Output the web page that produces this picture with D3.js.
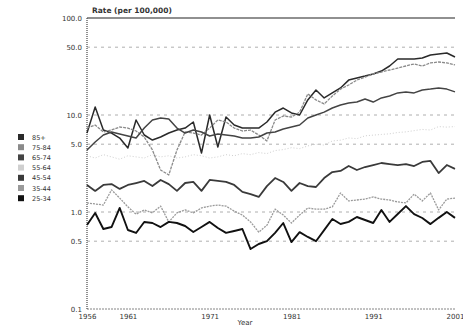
<!DOCTYPE html>
<html><head><meta charset="utf-8">
<script src="https://cdn.jsdelivr.net/npm/d3@7"></script>
<style>body{margin:0;background:#fff}svg{display:block}text{font-family:"DejaVu Sans",sans-serif}</style>
</head><body><svg id="c" width="463" height="327"></svg>
<script>
const years = d3.range(1956, 2002);
const groups = ["85+","75-84","65-74","55-64","45-54","35-44","25-34"];
const yTicks = [0.1,0.5,1,5,10,50,100];
const xTicks = [1956,1961,1971,1981,1991,2001];
const s85 = [6.52,12.1,7.0,6.52,5.79,4.57,8.88,6.22,5.52,5.93,6.52,7.0,7.34,8.47,4.06,10.0,4.68,9.53,7.88,7.34,7.34,7.34,8.47,10.7,11.8,10.5,10.0,14.3,18.1,15.0,16.9,19.0,22.9,24.1,25.2,26.5,28.4,32.0,37.8,37.8,37.8,38.7,41.6,42.6,43.6,39.6];
const s75 = [7.34,7.88,6.68,7.0,7.52,7.34,6.84,5.93,4.36,2.71,2.41,4.36,6.68,6.52,6.22,7.34,8.88,8.47,7.34,6.84,7.0,6.22,5.40,8.88,9.77,9.53,10.7,16.5,14.3,13.0,15.7,18.5,20.4,22.9,24.6,26.5,27.7,29.1,30.5,32.0,33.6,32.0,34.4,35.2,34.4,32.8];
const s65 = [4.36,5.27,6.22,6.68,6.37,6.08,5.79,7.34,8.88,9.31,9.10,7.34,6.52,7.0,6.68,6.08,6.37,6.22,6.08,5.79,5.79,5.93,6.52,6.68,7.17,7.52,7.88,9.31,10.0,10.7,11.8,12.7,13.3,13.6,14.6,13.6,15.0,15.7,16.9,17.3,16.9,18.1,18.5,19.0,18.5,17.3];
const s55 = [3.8,3.6,3.9,3.7,3.5,3.8,3.7,3.6,3.9,3.7,3.8,3.6,3.7,3.9,3.8,3.6,3.7,3.9,3.8,4.0,3.9,4.1,4.0,4.3,4.4,4.6,4.5,4.8,5.0,4.9,5.4,5.5,5.8,5.7,6.1,6.2,6.3,6.4,6.6,6.7,6.9,7.1,7.0,7.6,7.5,7.6];
const s45 = [1.90,1.65,1.90,1.94,1.73,1.90,1.99,2.09,1.85,2.14,1.94,1.65,1.99,2.04,1.65,2.14,2.09,2.04,1.90,1.61,1.53,1.43,1.85,2.24,2.04,1.65,1.99,1.85,1.81,2.24,2.58,2.65,2.98,2.71,2.91,3.05,3.20,3.12,3.05,3.12,2.98,3.28,3.36,2.52,3.05,2.78];
const s35 = [1.24,1.21,1.18,1.69,1.39,1.13,0.95,1.05,0.98,1.15,0.79,0.98,1.05,0.98,1.10,1.15,1.18,1.15,1.02,0.93,0.79,0.62,0.73,1.07,0.93,0.77,0.93,1.10,1.07,1.07,1.13,1.57,1.30,1.33,1.36,1.43,1.36,1.33,1.27,1.24,1.53,1.30,1.57,1.05,1.36,1.39];
const s25 = [0.734,0.977,0.668,0.70,1.10,0.652,0.608,0.789,0.77,0.70,0.79,0.77,0.717,0.622,0.70,0.79,0.684,0.61,0.637,0.668,0.415,0.468,0.50,0.61,0.77,0.49,0.62,0.553,0.50,0.65,0.847,0.752,0.79,0.888,0.827,0.77,1.05,0.79,0.953,1.15,0.95,0.867,0.75,0.87,1.0,0.87];
const seriesValues = [s85,s75,s65,s55,s45,s35,s25];
const colors = ["#2a2a2a","#8a8a8a","#444444","#cfcfcf","#3a3a3a","#9a9a9a","#111111"];
const widths = [1.5,1.3,1.5,1,1.8,1.3,1.9];
const dashes = [null,"3,1",null,"1,2",null,"2,1",null];

const svg = d3.select("#c");
const L=87,R=455,T=18,B=309;
const x = d3.scaleLinear().domain([1956,2001]).range([L,R]);
const y = d3.scaleLog().domain([0.1,100]).range([B,T]);

// gridlines
svg.append("g").selectAll("line").data(yTicks.filter(d=>d>0.1&&d<100)).join("line")
  .attr("x1",L).attr("x2",R).attr("y1",d=>y(d)).attr("y2",d=>y(d))
  .attr("stroke","#9a9a9a").attr("stroke-width",0.8).attr("stroke-dasharray","3,4");
// top line
svg.append("line").attr("x1",L).attr("x2",R).attr("y1",y(100)).attr("y2",y(100)).attr("stroke","#222").attr("stroke-width",1.2);
// bottom axis
svg.append("line").attr("x1",L).attr("x2",R).attr("y1",B).attr("y2",B).attr("stroke","#666").attr("stroke-width",0.8).attr("stroke-dasharray","2,1");
// left axis
svg.append("line").attr("x1",L).attr("x2",L).attr("y1",T).attr("y2",B).attr("stroke","#555").attr("stroke-width",1.3).attr("stroke-dasharray","1,1");

const yAxis = d3.axisLeft(y).tickValues(yTicks).tickFormat(d3.format(".1f")).tickSize(0).tickPadding(5);
const ya = svg.append("g").attr("transform",`translate(${L},0)`).call(yAxis);
ya.select(".domain").remove();
ya.selectAll("text").attr("font-size",7).attr("fill","#333");

const xAxis = d3.axisBottom(x).tickValues(xTicks).tickFormat(d3.format("d")).tickSize(0).tickPadding(5);
const xa = svg.append("g").attr("transform",`translate(0,${B})`).call(xAxis);
xa.select(".domain").remove();
xa.selectAll("text").attr("font-size",7).attr("fill","#333");

svg.append("text").attr("x",245).attr("y",325).attr("text-anchor","middle").attr("font-size",7).attr("fill","#333").text("Year");
svg.append("text").attr("x",92).attr("y",13).attr("font-size",7.5).attr("font-weight","bold").attr("fill","#333").text("Rate (per 100,000)");

const line = d3.line().x((d,i)=>x(years[i])).y(d=>y(d));
svg.append("g").selectAll("path").data(seriesValues).join("path")
  .attr("d",line).attr("fill","none")
  .attr("stroke",(d,i)=>colors[i]).attr("stroke-width",(d,i)=>widths[i])
  .attr("stroke-dasharray",(d,i)=>dashes[i]).attr("stroke-linejoin","round");

const lg = svg.append("g").selectAll("g").data(groups).join("g")
  .attr("transform",(d,i)=>`translate(18,${134+i*10.2})`);
lg.append("rect").attr("width",6).attr("height",6).attr("fill",(d,i)=>colors[i]);
lg.append("text").attr("x",14).attr("y",5.5).attr("font-size",6.5).attr("fill","#333").text(d=>d);
</script></body></html>
